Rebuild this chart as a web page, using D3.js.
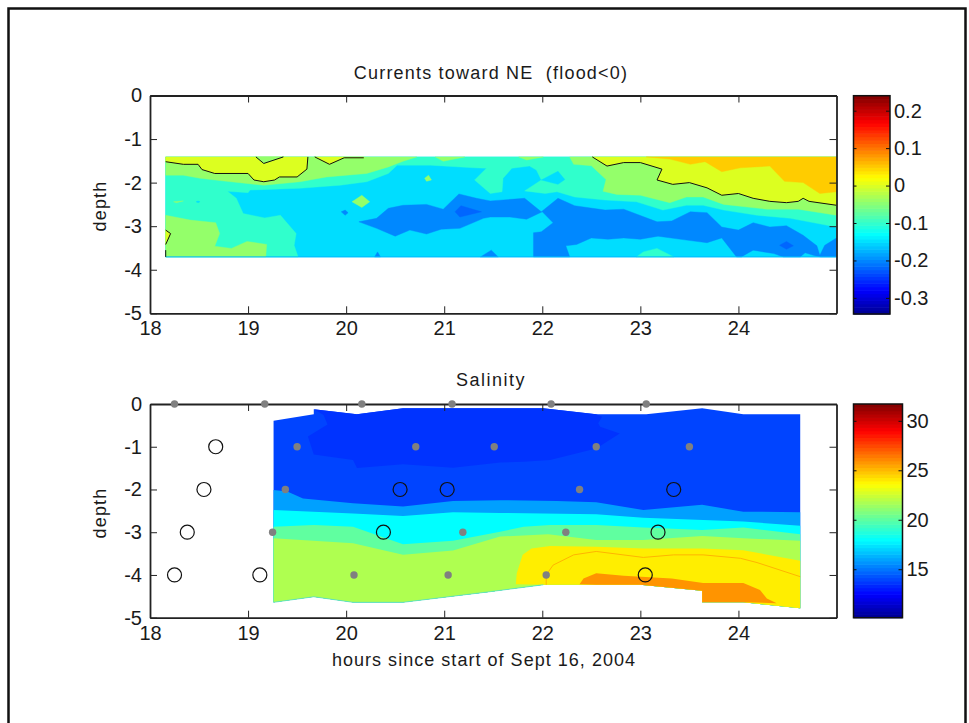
<!DOCTYPE html>
<html>
<head>
<meta charset="utf-8">
<script src="https://cdn.jsdelivr.net/npm/d3@7"></script>
<style>
    html, body { margin: 0; padding: 0; background: #fff; overflow: hidden; }
    text { font-family: "Liberation Sans", Arial, sans-serif; fill: #1a1a1a; }
</style>
</head>
<body>
<svg id="fig" width="969" height="723"></svg>
<script>
// all outlines are [hour, depth]
const hourTicks = [18, 19, 20, 21, 22, 23, 24];
const depthTicks = [0, -1, -2, -3, -4, -5];
const currentTicks = [0.2, 0.1, 0, -0.1, -0.2, -0.3];
const salinityTicks = [30, 25, 20, 15];
const currentRange = [-0.343, 0.24];
const salinityRange = [10.1, 31.7];
const jetStops = ["#00008f", "#0000ff", "#00ffff", "#ffff00", "#ff0000", "#800000"];

// ---- currents panel ----
const curSheet = [[18.16,-1.41],[25,-1.41],[25,-3.705],[18.16,-3.705]];
const curAqua = [[18.16,-1.41],[25,-1.41],[25,-3.02],[24.53,-2.82],[24.19,-2.75],[23.85,-2.63],[23.64,-2.52],[23.47,-2.52],[23.23,-2.63],[22.96,-2.44],[22.64,-2.40],[22.33,-2.33],[22.15,-2.21],[22.03,-2.25],[21.82,-2.19],[21.99,-1.94],[21.94,-1.71],[21.87,-1.62],[21.69,-1.67],[21.60,-1.90],[21.59,-2.21],[21.47,-2.25],[21.31,-1.94],[21.43,-1.67],[21.30,-1.66],[20.86,-1.60],[20.52,-1.60],[20.43,-1.79],[20.21,-1.98],[19.94,-2.06],[19.53,-2.13],[19.02,-2.17],[19.00,-2.23],[18.79,-2.20],[18.88,-2.36],[18.95,-2.71],[19.17,-2.81],[19.33,-2.75],[19.49,-3.17],[19.47,-3.44],[19.51,-3.705],[18.16,-3.705]];
const curAquaBit = [[22.96,-3.705],[23.03,-3.59],[23.17,-3.51],[23.34,-3.705]];
const curCyanBits = [
    [[21.99,-1.94],[22.16,-1.74],[22.23,-1.93],[22.16,-2.04]],
    [[18.47,-2.44],[18.49,-2.42],[18.51,-2.44],[18.49,-2.46]]
];
const curGreenLeft = [[18.16,-1.41],[20.72,-1.41],[20.58,-1.51],[20.43,-1.64],[20.21,-1.79],[19.80,-1.87],[19.53,-1.98],[19.16,-2.06],[18.78,-1.97],[18.51,-1.90],[18.34,-1.83],[18.16,-1.83]];
const curGreenLow = [[18.16,-2.75],[18.41,-2.86],[18.67,-2.92],[18.71,-3.17],[18.66,-3.46],[18.83,-3.51],[18.99,-3.35],[19.19,-3.42],[19.18,-3.705],[18.16,-3.705]];
const curGreenRight = [[22.28,-1.41],[22.32,-1.58],[22.50,-1.61],[22.65,-1.93],[22.62,-2.20],[22.76,-2.27],[23.00,-2.29],[23.30,-2.46],[23.47,-2.33],[23.64,-2.33],[23.85,-2.50],[24.29,-2.61],[24.61,-2.61],[25,-2.75],[25,-1.41]];
const curGreenBits = [
    [[20.06,-2.44],[20.16,-2.29],[20.24,-2.44],[20.16,-2.57]],
    [[20.80,-1.90],[20.84,-1.83],[20.87,-1.94],[20.82,-1.97]],
    [[21.76,-1.41],[21.84,-1.48],[22.01,-1.41]],
    [[20.91,-1.41],[20.99,-1.51],[21.21,-1.41]],
    [[18.24,-2.44],[18.34,-2.42],[18.27,-2.46]]
];
const curZeroLeft = [[18.16,-1.52],[18.34,-1.58],[18.49,-1.58],[18.53,-1.70],[18.66,-1.79],[19.00,-1.79],[19.06,-1.94],[19.16,-1.98],[19.27,-1.94],[19.32,-1.87],[19.50,-1.87],[19.60,-1.69],[19.61,-1.41]];
const curZeroNotch = [[19.08,-1.41],[19.16,-1.56],[19.36,-1.41]];
const curZeroMid = [[19.68,-1.41],[19.83,-1.58],[19.98,-1.43],[20.18,-1.43]];
const curZeroRight = [[22.51,-1.41],[22.66,-1.62],[22.83,-1.54],[23.00,-1.54],[23.22,-1.69],[23.17,-1.94],[23.33,-2.04],[23.50,-2.00],[23.68,-2.12],[23.83,-2.29],[24.00,-2.25],[24.15,-2.36],[24.32,-2.43],[24.49,-2.46],[24.61,-2.43],[24.66,-2.36],[24.72,-2.43],[25,-2.52]];
const curZeroLow = [[18.16,-3.09],[18.21,-3.17],[18.16,-3.42]];
const curZeroFoot = [[18.16,-3.55],[18.16,-3.705]];
const curOrange = [[23.06,-1.41],[23.30,-1.46],[23.51,-1.58],[23.66,-1.52],[23.83,-1.75],[24.02,-1.66],[24.32,-1.62],[24.47,-1.97],[24.66,-2.00],[24.83,-2.25],[25,-2.21],[25,-1.41]];
const curBlue = [[20.13,-2.90],[20.31,-2.82],[20.43,-2.59],[20.58,-2.52],[20.82,-2.50],[20.99,-2.61],[21.15,-2.26],[21.33,-2.36],[21.47,-2.42],[21.82,-2.36],[21.99,-2.67],[22.16,-2.36],[22.33,-2.53],[22.64,-2.63],[22.83,-2.61],[23.17,-2.90],[23.32,-2.88],[23.51,-2.67],[23.68,-2.69],[23.83,-3.02],[24.00,-3.09],[24.15,-2.92],[24.32,-3.02],[24.49,-2.99],[24.66,-3.21],[24.80,-3.45],[24.83,-3.67],[24.88,-3.44],[25,-3.27],[25,-3.705],[24.84,-3.705],[24.78,-3.68],[24.68,-3.61],[24.63,-3.705],[24.46,-3.705],[24.36,-3.63],[24.15,-3.55],[24.03,-3.705],[23.98,-3.705],[23.83,-3.27],[23.68,-3.38],[23.47,-3.32],[23.18,-3.23],[23.00,-3.30],[22.83,-3.27],[22.67,-3.30],[22.50,-3.27],[22.35,-3.42],[22.24,-3.45],[22.28,-3.705],[21.91,-3.705],[21.91,-3.15],[21.99,-3.13],[22.11,-2.92],[22.00,-2.67],[21.84,-2.84],[21.67,-2.79],[21.47,-2.79],[21.40,-2.82],[21.16,-3.05],[20.97,-3.07],[20.82,-3.18],[20.65,-3.09],[20.50,-3.23],[20.31,-3.05]];
const curBlueBits = [
    [[20.29,-3.705],[20.32,-3.59],[20.35,-3.705]],
    [[21.37,-3.705],[21.48,-3.55],[21.55,-3.705]],
    [[19.95,-2.67],[19.99,-2.63],[20.02,-2.69],[19.99,-2.75]]
];
const curDeep = [
    [[21.11,-2.67],[21.17,-2.53],[21.38,-2.67],[21.16,-2.79]],
    [[24.42,-3.44],[24.49,-3.35],[24.56,-3.45],[24.49,-3.53]]
];

// ---- salinity panel ----
const salTopEdge = [[19.26,-0.39],[19.67,-0.24],[19.67,-0.12],[20.11,-0.24],[20.58,-0.10],[22.01,-0.10],[22.55,-0.24],[23.06,-0.24],[23.63,-0.10],[24.05,-0.24],[24.63,-0.24]];
const salBottomEdge = [[24.63,-4.78],[24.05,-4.64],[23.63,-4.64],[23.63,-4.37],[23.00,-4.23],[22.55,-4.23],[22.01,-4.23],[21.47,-4.39],[20.58,-4.64],[20.07,-4.64],[19.67,-4.51],[19.26,-4.64]];
const salDark = [[19.67,-0.12],[19.77,-0.26],[19.81,-0.48],[19.61,-0.76],[19.67,-1.18],[20.07,-1.31],[20.11,-1.50],[20.58,-1.41],[21.09,-1.49],[21.57,-1.37],[21.81,-1.35],[22.08,-1.31],[22.55,-1.04],[22.79,-0.69],[22.59,-0.53],[22.57,-0.45],[22.61,-0.30],[22.55,-0.24],[22.01,-0.10],[20.58,-0.10],[20.11,-0.24]];
const salLightBlueTop = [[19.26,-2.01],[19.40,-2.05],[19.56,-2.21],[20.07,-2.32],[20.58,-2.40],[21.09,-2.27],[21.57,-2.25],[22.15,-2.27],[22.55,-2.30],[23.03,-2.48],[23.63,-2.36],[24.05,-2.52],[24.63,-2.53]];
const salCyanTop = [[19.26,-2.48],[20.07,-2.56],[20.58,-2.62],[21.09,-2.53],[21.57,-2.55],[22.55,-2.58],[23.03,-2.66],[24.05,-2.75],[24.63,-2.85]];
const salAquaTop = [[19.26,-2.87],[19.67,-2.83],[20.07,-2.87],[20.58,-3.28],[21.09,-3.20],[21.57,-2.99],[21.81,-2.87],[22.08,-2.83],[22.55,-2.83],[23.03,-2.89],[23.63,-2.95],[24.05,-2.89],[24.63,-3.05]];
const salLimeTop = [[19.26,-3.14],[20.07,-3.26],[20.58,-3.53],[21.09,-3.43],[21.57,-3.10],[22.06,-3.05],[22.55,-3.18],[23.03,-3.18],[23.63,-3.09],[24.05,-3.14],[24.63,-3.20]];
const salYellow = [[21.73,-4.22],[21.74,-3.96],[21.80,-3.53],[21.89,-3.38],[22.08,-3.32],[22.55,-3.34],[23.03,-3.38],[23.63,-3.38],[24.05,-3.42],[24.63,-3.67],[24.63,-4.78],[24.05,-4.64],[23.63,-4.64],[23.63,-4.37],[23.00,-4.23],[22.55,-4.23],[22.01,-4.23]];
const salOrange = [[22.38,-4.22],[22.42,-4.08],[22.55,-3.96],[22.83,-4.02],[23.32,-4.08],[23.64,-4.19],[24.05,-4.19],[24.22,-4.35],[24.29,-4.55],[24.39,-4.66],[24.05,-4.64],[23.63,-4.64],[23.63,-4.37],[23.00,-4.23],[22.55,-4.23]];
const salContour = [[22.04,-4.23],[22.04,-4.00],[22.11,-3.77],[22.32,-3.53],[22.55,-3.45],[23.03,-3.59],[23.34,-3.53],[23.64,-3.53],[24.02,-3.61],[24.19,-3.71],[24.63,-4.04]];

const greyDots = [[18.25,0],[19.17,0],[20.16,0],[21.08,0],[22.09,0],[23.06,0],[19.50,-1],[20.71,-1],[21.51,-1],[22.55,-1],[23.50,-1],[19.38,-2],[22.38,-2],[19.25,-3],[21.19,-3],[22.24,-3],[20.08,-4],[21.04,-4],[22.04,-4]];
const openCircles = [[18.67,-1],[18.55,-2],[18.38,-3],[18.25,-4],[19.12,-4],[20.55,-2],[21.03,-2],[20.38,-3],[23.34,-2],[23.18,-3],[23.05,-4]];

const svg = d3.select("#fig");

// outer frame, open at the bottom of the page
svg.append("path")
    .attr("d", "M8.5,723V8.5H965.5V723")
    .attr("fill", "none").attr("stroke", "#111").attr("stroke-width", 2.5);

const x = d3.scaleLinear().domain([18, 25]).range([150, 836.5]);
const yTop = d3.scaleLinear().domain([-5, 0]).range([313.3, 95.5]);
const yLow = d3.scaleLinear().domain([-5, 0]).range([617.7, 404]);

const jetPos = [0, 0.11, 0.365, 0.625, 0.875, 1];
const jet = d3.scaleLinear().domain(jetPos).range(jetStops).interpolate(d3.interpolateRgb);

function addAxes(g, yScale) {
    const h = yScale.range();
    const xr = x.range();
    g.append("g").attr("transform", `translate(0,${h[0]})`)
        .call(d3.axisBottom(x).tickValues(hourTicks).tickSizeInner(-7).tickSizeOuter(0).tickPadding(8).tickFormat(String));
    g.append("g").attr("transform", `translate(0,${h[1]})`)
        .call(d3.axisTop(x).tickValues(hourTicks).tickSizeInner(-7).tickSizeOuter(0).tickFormat(""));
    g.append("g").attr("transform", `translate(${xr[0]},0)`)
        .call(d3.axisLeft(yScale).tickValues(depthTicks).tickSizeInner(-7).tickSizeOuter(0).tickPadding(8).tickFormat(String));
    g.append("g").attr("transform", `translate(${xr[1]},0)`)
        .call(d3.axisRight(yScale).tickValues(depthTicks).tickSizeInner(-7).tickSizeOuter(0).tickFormat(""));
    g.selectAll(".domain").attr("stroke", "#222").attr("stroke-width", 1.8);
    g.selectAll(".tick line").attr("stroke", "#222").attr("stroke-width", 1);
    g.selectAll(".tick text").attr("font-size", 20).attr("fill", "#1a1a1a");
}

function addColorbar(left, right, barTop, bottom, range, ticks) {
    const c = d3.scaleLinear().domain(range).range([bottom, barTop]);
    const g = svg.append("g");
    const n = 64;
    const steps = d3.range(n);
    g.selectAll("rect").data(steps).enter().append("rect")
        .attr("x", left)
        .attr("width", right - left)
        .attr("y", i => barTop + (bottom - barTop) * (n - 1 - i) / n)
        .attr("height", (bottom - barTop) / n + 0.6)
        .attr("fill", i => jet((i + 0.5) / n));
    g.append("rect").attr("x", left).attr("y", barTop).attr("width", right - left).attr("height", bottom - barTop)
        .attr("fill", "none").attr("stroke", "#111").attr("stroke-width", 1.5);
    const ax = g.append("g").attr("transform", `translate(${right},0)`)
        .call(d3.axisRight(c).tickValues(ticks).tickSizeInner(-4).tickSizeOuter(0).tickPadding(4).tickFormat(String));
    g.append("g").attr("transform", `translate(${left},0)`)
        .call(d3.axisLeft(c).tickValues(ticks).tickSizeInner(-3).tickSizeOuter(0).tickFormat(""));
    g.selectAll(".domain").remove();
    g.selectAll(".tick line").attr("stroke", "#111");
    ax.selectAll("text").attr("font-size", 20).attr("fill", "#1a1a1a");
}

// top panel
const panelTop = svg.append("g");
const lineTop = d3.line().x(d => x(d[0])).y(d => yTop(d[1]));
function curFill(pts, col) {
    panelTop.append("path").attr("d", lineTop(pts) + "Z").attr("fill", col).attr("stroke", col).attr("stroke-width", 0.4);
}
const curCol = { orange: "#ffcc00", yellow: "#dcff20", green: "#94ff6a", aqua: "#30ffcc", cyan: "#00ddff", blue: "#0088ff", deep: "#0066ff" };

curFill(curSheet, curCol.cyan);
curFill(curAqua, curCol.aqua);
curCyanBits.forEach(p => curFill(p, curCol.cyan));
curFill(curAquaBit, curCol.aqua);
curFill(curBlue, curCol.blue);
curBlueBits.forEach(p => curFill(p, curCol.blue));
curDeep.forEach(p => curFill(p, curCol.deep));
curFill(curGreenLeft, curCol.green);
curFill(curGreenLow, curCol.green);
curFill(curGreenRight, curCol.green);
curGreenBits.forEach(p => curFill(p, curCol.green));
curFill(curZeroLeft.concat([[18.16,-1.41]]), curCol.yellow);
curFill(curZeroNotch, curCol.green);
curFill(curZeroMid.concat([[20.18,-1.41]]), curCol.yellow);
curFill(curZeroRight.concat([[25,-1.41]]), curCol.yellow);
curFill(curZeroLow, curCol.yellow);
curFill(curOrange, curCol.orange);
panelTop.append("path")
    .attr("d", lineTop([[18.16,-3.705],[25,-3.705]]))
    .attr("fill", "none").attr("stroke", "#00bbff").attr("stroke-width", 1);
[curZeroLeft, curZeroNotch, curZeroMid, curZeroRight, curZeroLow, curZeroFoot].forEach(p => {
    panelTop.append("path").attr("d", lineTop(p))
        .attr("fill", "none").attr("stroke", "#111").attr("stroke-width", 1);
});
addAxes(panelTop, yTop);

// bottom panel
const panelLow = svg.append("g");
const lineLow = d3.line().x(d => x(d[0])).y(d => yLow(d[1]));
function salFill(pts, col) {
    panelLow.append("path").attr("d", lineLow(pts) + "Z").attr("fill", col);
}
salFill(salTopEdge.concat(salBottomEdge), "#0044ff");
salFill(salDark, "#0033ff");
salFill(salLightBlueTop.concat(salBottomEdge), "#00a0ff");
salFill(salCyanTop.concat(salBottomEdge), "#00ffff");
salFill(salAquaTop.concat(salBottomEdge), "#60ffa0");
salFill(salLimeTop.concat(salBottomEdge), "#afff50");
salFill(salYellow, "#ffee00");
salFill(salOrange, "#ff9400");
panelLow.append("path").attr("d", lineLow(salContour))
    .attr("fill", "none").attr("stroke", "#ffb400").attr("stroke-width", 1);
panelLow.append("path").attr("d", lineLow(salBottomEdge.slice(6)))
    .attr("fill", "none").attr("stroke", "#60e0c0").attr("stroke-width", 0.8);
addAxes(panelLow, yLow);
panelLow.selectAll("circle.dot").data(greyDots).enter().append("circle")
    .attr("class", "dot")
    .attr("cx", d => x(d[0])).attr("cy", d => yLow(d[1])).attr("r", 3.7)
    .attr("fill", "#808080");
panelLow.selectAll("circle.ring").data(openCircles).enter().append("circle")
    .attr("class", "ring")
    .attr("cx", d => x(d[0])).attr("cy", d => yLow(d[1])).attr("r", 7)
    .attr("fill", "none").attr("stroke", "#111").attr("stroke-width", 1.2);

addColorbar(853.5, 890, 95.7, 314, currentRange, currentTicks);
addColorbar(853.5, 902.5, 404, 617.7, salinityRange, salinityTicks);

// titles and labels
function label(px, py, s, size, rot) {
    const t = svg.append("text").attr("font-size", size).attr("text-anchor", "middle").text(s);
    if (rot) t.attr("transform", `translate(${px},${py}) rotate(-90)`);
    else t.attr("x", px).attr("y", py);
    return t;
}
label(491, 79, "Currents toward NE  (flood<0)", 18).style("white-space", "pre").attr("letter-spacing", 1.2);
label(491, 386, "Salinity", 18).attr("letter-spacing", 1.5);
label(484, 666, "hours since start of Sept 16, 2004", 18).attr("letter-spacing", 1.03);
label(106, 206, "depth", 18, true).attr("letter-spacing", 1.2);
label(106, 513, "depth", 18, true).attr("letter-spacing", 1.2);
</script>
</body>
</html>
